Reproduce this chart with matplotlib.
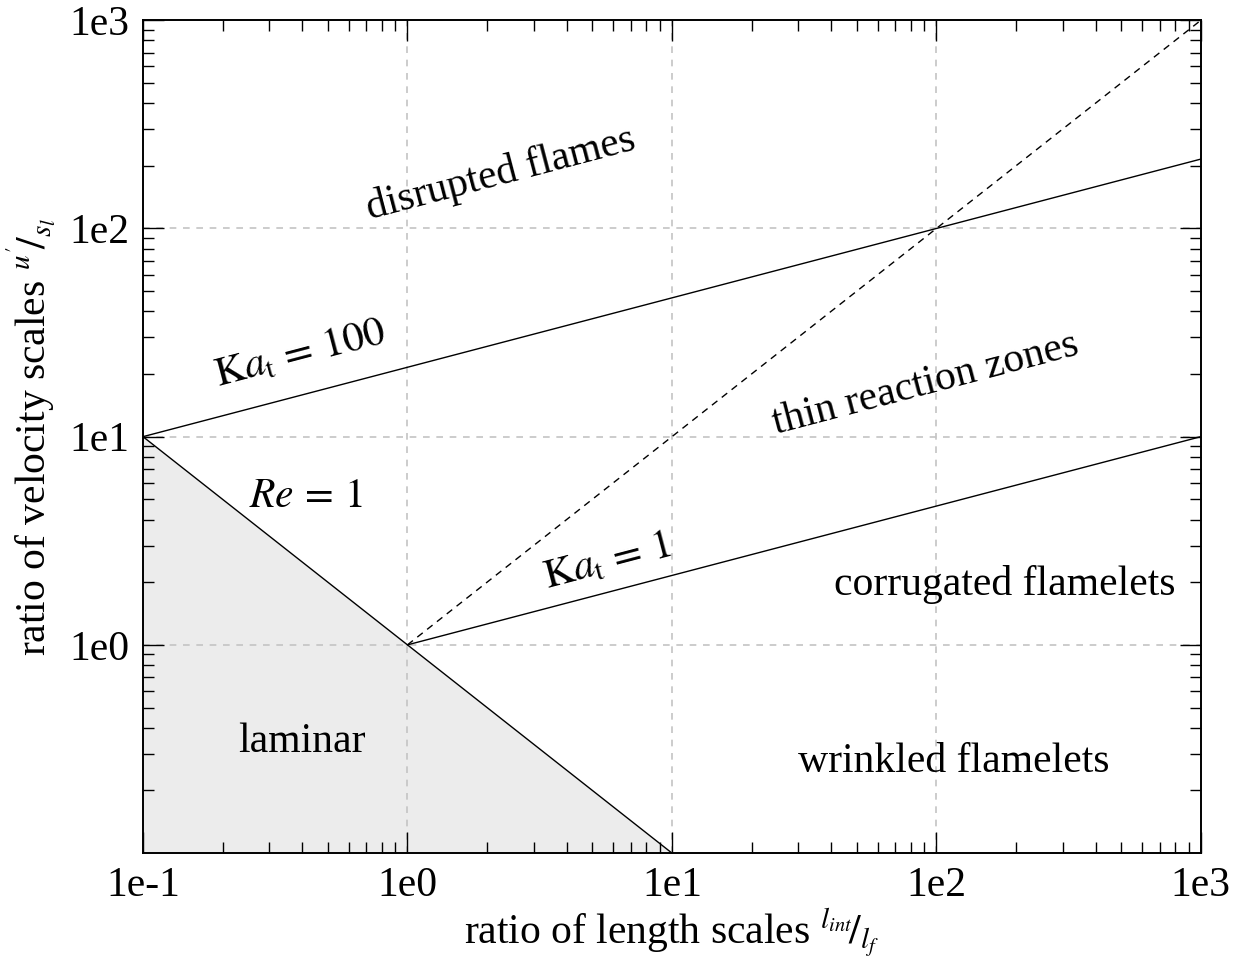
import numpy as np
import matplotlib
matplotlib.use('Agg')
import matplotlib.pyplot as plt
from matplotlib.ticker import LogLocator, FixedLocator, FixedFormatter, NullFormatter

plt.rcParams['font.family'] = ['Liberation Serif', 'DejaVu Serif']
plt.rcParams['mathtext.fontset'] = 'stix'

# regime boundaries (Borghi / Peters diagram)
x_re = [0.1, 10.0]          # Re = 1  -> u'/sl = lf/lint
y_re = [10.0, 0.1]
x_ka100 = [0.1, 1000.0]     # Ka_t = 100
y_ka100 = [10.0, 215.4]
x_ka1 = [1.0, 1000.0]       # Ka_t = 1
y_ka1 = [1.0, 10.0]
x_da = [1.0, 1000.0]        # Da = 1 (dashed)
y_da = [1.0, 1000.0]

x_ticks = [0.1, 1, 10, 100, 1000]
x_ticklabels = ['1e-1', '1e0', '1e1', '1e2', '1e3']
y_ticks = [1, 10, 100, 1000]
y_ticklabels = ['1e0', '1e1', '1e2', '1e3']

regions = ['disrupted flames', 'thin reaction zones', 'corrugated flamelets',
           'wrinkled flamelets', 'laminar']
region_x = [2.25, 91.0, 182.0, 116.0, 0.40]
region_y = [182.0, 17.8, 1.94, 0.274, 0.342]
region_rot = [True, True, False, False, False]

fig = plt.figure(figsize=(12.38, 9.65), dpi=100)
ax = fig.add_axes([0.1155, 0.116, 0.8545, 0.863])
ax.set_xscale('log')
ax.set_yscale('log')
ax.set_xlim(0.1, 1000)
ax.set_ylim(0.1, 1000)

ax.fill_between(x_re, y_re, 0.1, color='#ececec', zorder=1, linewidth=0)
ax.plot(x_re, y_re, color='black', lw=1.0, zorder=3)
ax.plot(x_ka100, y_ka100, color='black', lw=1.0, zorder=3)
ax.plot(x_ka1, y_ka1, color='black', lw=1.0, zorder=3)
ax.plot(x_da, y_da, color='black', lw=1.0, ls=(0, (5, 4)), zorder=3)

ax.grid(True, which='major', color='#c4c4c4', ls=(0, (4, 4)), lw=1.2, zorder=0)

ax.xaxis.set_major_locator(FixedLocator(x_ticks))
ax.xaxis.set_major_formatter(FixedFormatter(x_ticklabels))
ax.yaxis.set_major_locator(FixedLocator(y_ticks))
ax.yaxis.set_major_formatter(FixedFormatter(y_ticklabels))
ax.xaxis.set_minor_locator(LogLocator(base=10, subs=np.arange(2, 10)))
ax.yaxis.set_minor_locator(LogLocator(base=10, subs=np.arange(2, 10)))
ax.xaxis.set_minor_formatter(NullFormatter())
ax.yaxis.set_minor_formatter(NullFormatter())
ax.tick_params(which='both', direction='in', top=True, right=True, width=1.0)
ax.tick_params(which='major', length=15, labelsize=30, pad=10)
ax.tick_params(which='minor', length=8)
for s in ax.spines.values():
    s.set_linewidth(1.4)
    s.set_zorder(5)

# angle of the Ka lines on screen (slope 1/3 in log-log)
fig.canvas.draw()
p0 = ax.transData.transform((x_ka1[0], y_ka1[0]))
p1 = ax.transData.transform((x_ka1[1], y_ka1[1]))
ang = np.degrees(np.arctan2(p1[1] - p0[1], p1[0] - p0[0]))

fs = 30
for name, rx, ry, rot in zip(regions, region_x, region_y, region_rot):
    ax.text(rx, ry, name, fontsize=fs, ha='center', va='center',
            rotation=ang if rot else 0, rotation_mode='anchor', zorder=4)

ax.text(0.394, 24.8, r'$\mathrm{K}a_{\mathrm{t}}\,=\,100$', fontsize=fs, ha='center',
        va='center', rotation=ang, rotation_mode='anchor', zorder=4)
ax.text(5.7, 2.5, r'$\mathrm{K}a_{\mathrm{t}}\,=\,1$', fontsize=fs, ha='center',
        va='center', rotation=ang, rotation_mode='anchor', zorder=4)
ax.text(0.411, 5.15, r'$Re\,=\,1$', fontsize=fs, ha='center',
        va='center', zorder=4)

ax.set_xlabel(r"ratio of length scales $^{l_{int}}\!/_{l_f}$", fontsize=30, labelpad=0)
ax.set_ylabel(r"ratio of velocity scales $^{u'}\!/_{s_l}$", fontsize=30, labelpad=8)

fig.savefig('out.png', dpi=100)
